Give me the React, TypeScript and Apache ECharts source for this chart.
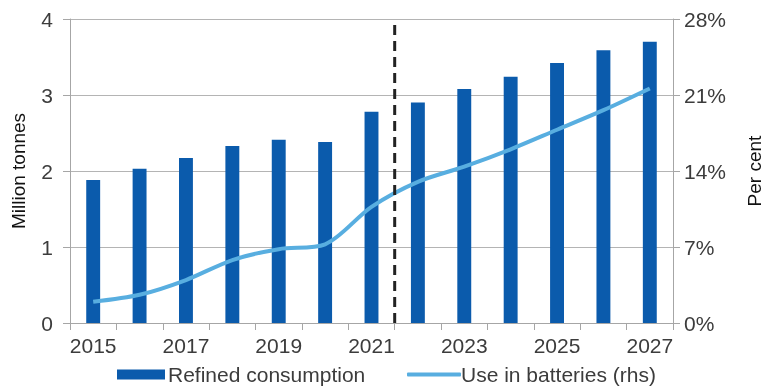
import React, { useEffect, useRef } from "react";
import * as echarts from "echarts";

const years = ["2015", "2016", "2017", "2018", "2019", "2020", "2021", "2022", "2023", "2024", "2025", "2026", "2027"];
const refinedConsumption = [1.88, 2.03, 2.17, 2.33, 2.41, 2.38, 2.78, 2.9, 3.08, 3.24, 3.42, 3.59, 3.7];
const useInBatteries = [1.96, 2.6, 3.96, 5.8, 6.8, 7.25, 10.7, 13.0, 14.4, 16.0, 17.8, 19.6, 21.6];
const forecastBoundary = [[7, 0], [7, 4]];
const leftTicks = { min: 0, max: 4, interval: 1 };
const rightTicks = { min: 0, max: 28, interval: 7 };

const textColor = "#3c3c3c";
const font = "'Liberation Sans', Arial, sans-serif";
const barColor = "#0B5BAC";
const lineColor = "#58AEE0";

export default function App() {
  const ref = useRef<HTMLDivElement>(null);
  useEffect(() => {
    if (!ref.current) return;
    document.body.style.margin = "0";
    document.body.style.overflow = "hidden";
    document.documentElement.style.overflow = "hidden";
    const chart = echarts.init(ref.current, undefined, { renderer: "svg" });
    chart.setOption({
      animation: false,
      textStyle: { fontFamily: font, color: textColor },
      grid: { left: 70, right: 92, top: 19, bottom: 64, containLabel: false, outerBoundsMode: "none" },
      legend: [
        {
          left: 117,
          top: 364,
          padding: 0,
          itemWidth: 48,
          itemHeight: 10,
          itemGap: 0,
          textStyle: { fontSize: 21, color: textColor, fontFamily: font, padding: [0, 0, 0, -2] },
          data: [{ name: "Refined consumption", icon: "rect", itemStyle: { color: barColor } }],
        },
        {
          left: 407,
          top: 364,
          padding: 0,
          itemWidth: 54,
          itemHeight: 4,
          itemGap: 0,
          textStyle: { fontSize: 21, color: textColor, fontFamily: font, padding: [0, 0, 0, -5] },
          data: [{ name: "Use in batteries (rhs)", icon: "roundRect", itemStyle: { color: lineColor } }],
        },
      ],
      xAxis: [
        {
          type: "category",
          data: years,
          boundaryGap: true,
          axisLine: { lineStyle: { color: "#a6a6a6", width: 1 } },
          axisTick: { show: true, length: 7, interval: 0, lineStyle: { color: "#a6a6a6" } },
          axisLabel: { interval: 1, fontSize: 21, color: textColor, margin: 12, fontFamily: font },
          splitLine: { show: false },
        },
        {
          type: "value",
          min: 0,
          max: 13,
          show: false,
        },
      ],
      yAxis: [
        {
          type: "value",
          ...leftTicks,
          name: "Million tonnes",
          nameLocation: "middle",
          nameRotate: 90,
          nameGap: 42,
          nameTextStyle: { fontSize: 19, color: "#111", fontFamily: font },
          axisLine: { show: true, lineStyle: { color: "#a6a6a6" } },
          axisTick: { show: true, length: 7, lineStyle: { color: "#a6a6a6" } },
          axisLabel: { fontSize: 21, color: textColor, margin: 17, fontFamily: font },
          splitLine: { show: true, lineStyle: { color: "#b4b4b4", width: 1 } },
        },
        {
          type: "value",
          ...rightTicks,
          name: "Per cent",
          nameLocation: "middle",
          nameRotate: 90,
          nameGap: 72,
          nameTextStyle: { fontSize: 19, color: "#111", fontFamily: font },
          axisLine: { show: true, lineStyle: { color: "#a6a6a6" } },
          axisTick: { show: true, length: 7, lineStyle: { color: "#a6a6a6" } },
          axisLabel: { fontSize: 21, color: textColor, margin: 11, formatter: "{value}%", fontFamily: font },
          splitLine: { show: false },
        },
      ],
      series: [
        {
          name: "Refined consumption",
          type: "bar",
          data: refinedConsumption,
          barWidth: "30%",
          itemStyle: { color: barColor },
          xAxisIndex: 0,
          yAxisIndex: 0,
        },
        {
          name: "Use in batteries (rhs)",
          type: "line",
          data: useInBatteries,
          xAxisIndex: 0,
          yAxisIndex: 1,
          smooth: 0.3,
          symbol: "none",
          lineStyle: { color: lineColor, width: 4 },
          itemStyle: { color: lineColor },
          z: 3,
        },
        {
          name: "boundary",
          type: "line",
          data: forecastBoundary,
          xAxisIndex: 1,
          yAxisIndex: 0,
          symbol: "none",
          silent: true,
          lineStyle: { color: "#222", width: 3, type: [10, 6] },
          z: 4,
        },
      ],
    });
    return () => chart.dispose();
  }, []);
  return <div ref={ref} style={{ width: 765, height: 387, position: "fixed", left: 0, top: 0 }} />;
}
